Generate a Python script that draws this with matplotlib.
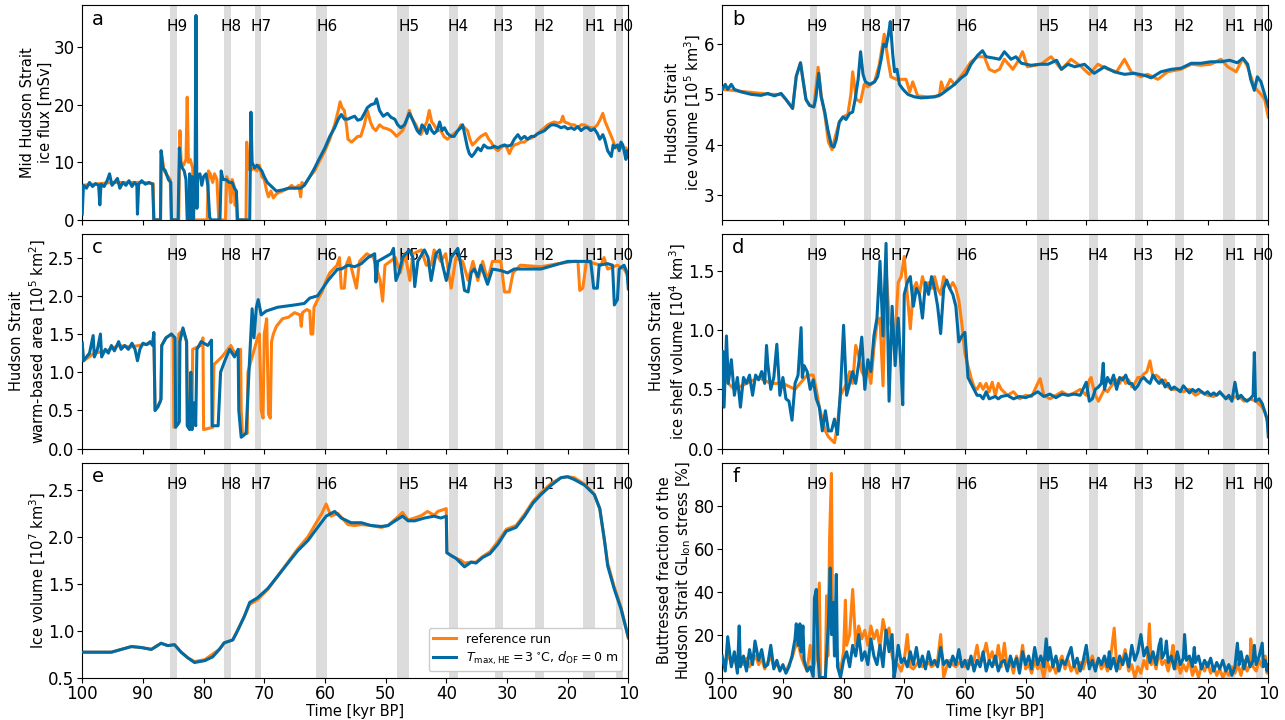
import matplotlib.pyplot as plt
import matplotlib.transforms as mtransforms

# Heinrich event bands (kyr BP, older edge -> younger edge)
h_names = ["H9", "H8", "H7", "H6", "H5", "H4", "H3", "H2", "H1", "H0"]
h_start = [85.5, 76.6, 71.5, 61.4, 48.1, 39.5, 32.0, 25.4, 17.4, 12.0]
h_end = [84.4, 75.5, 70.5, 59.7, 46.1, 38.1, 30.7, 23.9, 15.5, 10.9]

# --- a: mid Hudson Strait ice flux [mSv] ---
a_ref = [(100, 6.0), (95, 6.5), (90, 6.5), (88.3, 6.3), (88.2, 0), (87.1, 0), (87.0, 12), (86.5, 8.5), (85.5, 7),
         (85.3, 0), (84.1, 0), (83.9, 15.5), (83.7, 10), (83.3, 9.5), (82.9, 10.5), (82.7, 21.3), (82.5, 10),
         (82.2, 10.5), (81.8, 9), (81.6, 0), (79.4, 0), (79.2, 8.5), (78.9, 8), (78.5, 6.5), (78.2, 8), (77.8, 7),
         (77.5, 0), (76.4, 0), (76.2, 7.5), (75.8, 6.5), (75.5, 3), (75.3, 7), (75.0, 6), (74.8, 2.5), (74.6, 5),
         (74.5, 0), (73.0, 0), (72.9, 13.5), (72.6, 9), (72.3, 8.5), (71.8, 9), (71.2, 8.5), (70.8, 9.5), (70.4, 7.5),
         (70.0, 7), (69.6, 5), (69.3, 4), (68.9, 5), (68.5, 3.8), (68.0, 4.5), (67.5, 4.8), (67, 5), (66, 5.5),
         (65.5, 6), (65, 5.5), (64.3, 6), (64.0, 4), (63.8, 6.5), (63.4, 6), (62.5, 7.5), (61.7, 8.5), (61, 10),
         (60, 12), (59.2, 14), (58.4, 16.5), (57.8, 19), (57.5, 20.5), (57.2, 19.5), (56.8, 19), (56.4, 16),
         (56.2, 14), (55.6, 13.5), (55.1, 14), (54.6, 14.5), (54.1, 14.5), (53.5, 16.5), (53.0, 19.0), (52.5, 17),
         (52.1, 16), (51.6, 15.5), (51.0, 16.5), (50.4, 16), (49.7, 15.8), (49.1, 15.5), (48.6, 15), (48.2, 14.5),
         (47.7, 15), (47.2, 15.5), (46.6, 17), (46.1, 19), (45.6, 17.5), (45.0, 16.5), (44.6, 15.5), (44.2, 14.8),
         (43.7, 16), (43.2, 17), (42.8, 19), (42.4, 17), (42.0, 16.5), (41.5, 15.5), (40.9, 15.5), (40.4, 14.5),
         (39.8, 14), (39.3, 14.5), (38.7, 15), (38.1, 15.5), (37.6, 16.5), (37.0, 16), (36.5, 15.5), (36.1, 14),
         (35.7, 13), (35.2, 13.5), (34.8, 14), (34.3, 14.5), (33.5, 15), (33.0, 14), (32.6, 13.5), (32.1, 12.5),
         (31.5, 12), (31.0, 12.5), (30.4, 13), (30.0, 12.5), (29.6, 11.5), (29.2, 12.5), (28.8, 13), (28.2, 13.2),
         (27.7, 13.5), (27.1, 13.5), (26.6, 14), (26.0, 14.2), (25.5, 14.5), (24.9, 15), (24.4, 15.5), (23.8, 16),
         (23.3, 16.5), (22.7, 16.8), (22.2, 17), (21.6, 16.8), (21.1, 17), (20.8, 18), (20.5, 17), (20.0, 16.8),
         (19.4, 16.5), (18.9, 16.5), (18.3, 16), (17.8, 16.5), (17.2, 16.5), (16.7, 16.2), (16.2, 16), (15.6, 16),
         (15.1, 16.5), (14.6, 17.5), (14.2, 18.5), (13.8, 17), (13.4, 16), (13.0, 15), (12.6, 14), (12.1, 12.5),
         (11.6, 13), (11.3, 12.5), (10.9, 12.5), (10.4, 12.5), (10.0, 11.5)]
a_exp = [(100, 1.0), (99.8, 6.0), (99.3, 5.5), (98.8, 6.5), (98.3, 5.8), (97.8, 6.3), (97.3, 6.0), (97.1, 2.6),
         (96.9, 6.2), (96.4, 5.8), (95.9, 6.8), (95.5, 8.0), (95.1, 6.0), (94.7, 6.5), (94.2, 7.2), (93.8, 5.5),
         (93.3, 6.5), (92.8, 6.0), (92.3, 6.8), (91.8, 5.8), (91.4, 6.5), (91.0, 6.0), (90.9, 1.0), (90.7, 6.2),
         (90.2, 6.8), (89.6, 6.2), (89.0, 6.5), (88.4, 6.2), (88.2, 0), (87.1, 0), (87.0, 12.0), (86.7, 9.0),
         (86.3, 8.5), (85.8, 7.0), (85.4, 6.5), (85.3, 0), (84.2, 0), (84.0, 12.5), (83.8, 10.0), (83.5, 9.0),
         (83.2, 8.5), (82.9, 7.0), (82.7, 0), (82.4, 0), (82.3, 8.0), (82.1, 0), (81.9, 7.5), (81.7, 0), (81.4, 8.0),
         (81.25, 35.5), (81.1, 2.0), (81.0, 7.5), (80.6, 8.0), (80.3, 6.0), (80.0, 7.5), (79.6, 8.0), (79.3, 6.0),
         (79.0, 0.5), (78.8, 0), (77.3, 0), (77.1, 8.5), (76.8, 7.0), (76.3, 7.0), (75.8, 6.5), (75.3, 6.5),
         (74.9, 5.5), (74.6, 5.0), (74.4, 0), (72.4, 0), (72.2, 18.7), (72.0, 10), (71.6, 9.0), (71.2, 9.5),
         (70.8, 9.0), (70.4, 8.5), (70.0, 7.5), (69.5, 6.5), (69.0, 6.0), (68.5, 5.5), (68.0, 5.0), (67.0, 5.2),
         (66.0, 5.5), (65.0, 5.5), (64.0, 5.5), (63.4, 6.0), (62.5, 7.5), (61.7, 9.0), (61.0, 10.5), (60.0, 12.5),
         (59.2, 14.5), (58.4, 16.0), (57.8, 17.5), (57.3, 18.3), (56.8, 17.5), (56.2, 17.5), (55.6, 17.8),
         (55.1, 18.0), (54.6, 17.3), (54.0, 17.5), (53.5, 18.5), (53.0, 19.5), (52.4, 20.0), (51.8, 20.2),
         (51.5, 21.0), (51.0, 19.0), (50.4, 18.0), (49.7, 18.5), (49.1, 17.8), (48.5, 17.5), (48.0, 16.5),
         (47.5, 16.0), (46.9, 16.5), (46.5, 17.5), (46.1, 18.5), (45.6, 17.5), (45.2, 16.5), (44.8, 15.5),
         (44.4, 15.0), (44.0, 16.5), (43.6, 16.0), (43.2, 15.0), (42.8, 16.5), (42.4, 15.5), (42.0, 15.0),
         (41.5, 15.5), (41.1, 17.0), (40.7, 15.5), (40.3, 16.0), (39.8, 15.0), (39.2, 14.5), (38.7, 14.5),
         (38.1, 15.5), (37.6, 16.0), (37.3, 16.5), (36.8, 14.0), (36.5, 12.5), (36.2, 11.5), (35.8, 11.0),
         (35.4, 11.5), (34.8, 12.5), (34.3, 12.0), (33.8, 13.0), (33.2, 12.5), (32.6, 12.5), (32.1, 12.8),
         (31.5, 12.5), (31.0, 12.8), (30.4, 13.0), (29.9, 12.8), (29.3, 13.0), (28.8, 14.0), (28.2, 14.8),
         (27.7, 14.0), (27.1, 14.5), (26.6, 14.0), (26.0, 14.5), (25.5, 14.5), (24.9, 15.0), (24.4, 15.2),
         (23.8, 15.5), (23.3, 16.0), (22.7, 16.5), (22.2, 16.5), (21.6, 16.3), (21.1, 16.0), (20.5, 16.2),
         (20.0, 15.8), (19.4, 16.0), (18.9, 15.7), (18.3, 16.2), (17.8, 15.5), (17.2, 16.0), (16.7, 16.0),
         (16.2, 15.5), (15.6, 15.8), (15.1, 15.0), (14.7, 14.0), (14.2, 14.8), (13.9, 14.0), (13.4, 12.0),
         (12.8, 11.0), (12.5, 13.0), (12.3, 12.5), (11.8, 13.0), (11.5, 12.0), (11.2, 13.5), (10.9, 13.0),
         (10.6, 11.5), (10.4, 10.5), (10.2, 12.0), (10.0, 11.0)]

# --- b: Hudson Strait ice volume [1e5 km3] ---
b_ref = [(100, 5.1), (96, 5.05), (92, 5.0), (90.3, 5.0), (89.5, 4.9), (88.4, 4.72), (87.8, 5.36), (87.1, 5.63),
         (86.7, 5.3), (86.2, 4.9), (85.6, 4.78), (84.9, 4.75), (84.5, 5.2), (84.2, 5.54), (83.7, 5.0), (83.1, 4.6),
         (82.5, 4.05), (81.9, 3.9), (81.5, 4.1), (80.7, 4.45), (80.1, 4.55), (79.3, 4.6), (78.8, 5.0), (78.5, 5.45),
         (77.9, 4.9), (77.2, 4.85), (76.6, 5.2), (76.0, 5.15), (74.9, 5.25), (74.1, 5.6), (73.3, 6.2), (72.7, 5.7),
         (72.2, 5.35), (71.3, 5.3), (70.5, 5.3), (69.7, 5.3), (69.1, 5.05), (68.6, 5.25), (67.8, 4.97), (66, 4.95),
         (64.2, 4.97), (63.9, 5.25), (63.4, 5.05), (62.4, 5.3), (61.7, 5.2), (60.1, 5.45), (59.0, 5.65),
         (57.9, 5.75), (56.8, 5.75), (56.0, 5.5), (55.1, 5.45), (54.3, 5.5), (53.5, 5.7), (52.1, 5.5), (51.3, 5.65),
         (50.5, 5.85), (49.7, 5.55), (47.5, 5.6), (45.8, 5.75), (44.1, 5.5), (42.5, 5.7), (40.8, 5.55), (39.5, 5.4),
         (38.1, 5.6), (36.4, 5.5), (35.0, 5.45), (33.7, 5.7), (32.6, 5.45), (31.0, 5.35), (29.9, 5.4), (28.2, 5.3),
         (26.6, 5.45), (24.4, 5.5), (22.7, 5.6), (21.1, 5.58), (19.5, 5.6), (17.8, 5.7), (16.7, 5.55),
         (15.3, 5.45), (14.2, 5.72), (13.4, 5.55), (12.3, 5.15), (11.2, 5.0), (10.6, 4.9), (10.0, 4.55)]
b_exp = [(100, 5.1), (99.5, 5.2), (99.1, 5.1), (98.5, 5.2), (98, 5.1), (96.9, 5.05), (95.2, 5.0), (93.6, 4.98),
         (92.5, 5.02), (91.4, 4.97), (90.3, 5.02), (89.5, 4.9), (88.4, 4.72), (87.8, 5.36), (87.1, 5.63),
         (86.7, 5.3), (86.2, 4.9), (85.6, 4.78), (84.9, 4.75), (84.6, 4.9), (84.1, 5.42), (83.7, 4.95),
         (83.1, 4.65), (82.6, 4.3), (82.0, 3.98), (81.6, 3.95), (81.2, 4.1), (80.7, 4.45), (80.1, 4.55),
         (79.6, 4.5), (79.0, 4.62), (78.5, 4.65), (78.1, 4.9), (77.6, 5.3), (77.2, 5.85), (76.8, 5.4),
         (76.4, 5.25), (75.7, 5.2), (74.9, 5.25), (74.4, 5.35), (73.8, 5.7), (73.4, 6.0), (73.0, 5.95),
         (72.6, 6.2), (72.3, 6.45), (71.9, 5.8), (71.6, 5.45), (71.2, 5.5), (70.8, 5.2), (70.2, 5.1), (69.4, 5.0),
         (68.3, 4.95), (67.2, 4.93), (65.0, 4.95), (63.9, 5.0), (62.8, 5.1), (61.7, 5.2), (60.6, 5.33),
         (59.8, 5.4), (59.0, 5.6), (57.9, 5.78), (57.1, 5.87), (56.5, 5.75), (55.1, 5.72), (54.3, 5.7),
         (53.5, 5.85), (52.4, 5.7), (51.6, 5.75), (50.7, 5.62), (49.1, 5.58), (47.7, 5.6), (46.3, 5.6),
         (44.9, 5.68), (44.1, 5.5), (43.0, 5.6), (41.9, 5.55), (40.3, 5.6), (38.7, 5.42), (37.0, 5.55),
         (35.4, 5.45), (33.7, 5.4), (32.1, 5.42), (30.4, 5.38), (29.3, 5.33), (27.7, 5.45), (26.0, 5.5),
         (24.4, 5.52), (22.7, 5.62), (21.1, 5.62), (19.5, 5.65), (17.8, 5.65), (16.4, 5.68), (15.1, 5.63),
         (14.2, 5.72), (13.4, 5.6), (12.9, 5.3), (12.3, 5.08), (11.8, 5.35), (11.2, 5.25), (10.6, 5.0),
         (10.0, 4.76)]

# --- c: Hudson Strait warm-based area [1e5 km2] ---
c_ref = [(100, 1.38), (99.8, 1.15), (98, 1.25), (96, 1.28), (94, 1.35), (92, 1.33), (90, 1.36), (88.4, 1.38),
         (88.2, 1.5), (88.0, 0.5), (87.1, 0.62), (86.9, 1.35), (86.2, 1.45), (85.3, 1.5), (85.0, 1.45),
         (84.9, 0.28), (84.2, 0.32), (84.1, 1.5), (83.4, 1.55), (82.8, 1.4), (82.6, 0.3), (81.9, 0.28),
         (81.8, 1.3), (80.5, 1.35), (80.1, 1.45), (80.0, 0.25), (78.5, 0.28), (78.3, 1.1), (77.0, 1.2),
         (75.5, 1.35), (74.9, 1.25), (73.9, 1.3), (73.8, 0.5), (73.6, 0.2), (72.8, 0.2), (72.7, 1.0),
         (72.0, 1.2), (71.1, 1.45), (70.8, 1.5), (70.5, 0.5), (70.2, 0.4), (70.0, 1.5), (69.6, 1.7),
         (69.3, 0.45), (69.0, 0.4), (68.8, 1.4), (68.5, 1.5), (68.0, 1.6), (67.0, 1.7), (66.0, 1.72),
         (65.0, 1.78), (64.1, 1.75), (63.9, 1.6), (63.7, 1.78), (63.0, 1.82), (62.5, 1.8), (62.3, 1.5),
         (62.0, 1.5), (61.8, 1.85), (61.2, 1.95), (60.5, 2.05), (59.8, 2.2), (59.2, 2.3), (58.6, 2.35),
         (58.0, 2.4), (57.6, 2.5), (57.3, 2.1), (56.8, 2.1), (56.5, 2.4), (56.0, 2.5), (55.6, 2.35),
         (54.8, 2.1), (54.3, 2.45), (53.1, 2.55), (52.0, 2.5), (50.9, 2.2), (50.5, 1.93), (50.1, 2.4),
         (48.4, 2.5), (47.6, 2.3), (46.8, 2.55), (46.0, 2.2), (45.5, 2.55), (44.1, 2.6), (43.3, 2.4),
         (42.5, 2.4), (42.0, 2.6), (40.9, 2.45), (40.1, 2.55), (39.2, 2.1), (38.4, 2.5), (37.3, 2.45),
         (36.4, 2.2), (35.6, 2.45), (34.8, 2.2), (34.0, 2.45), (33.2, 2.2), (32.4, 2.45), (31.0, 2.45),
         (30.4, 2.05), (29.6, 2.05), (29.0, 2.3), (27.8, 2.4), (24.4, 2.38), (21.6, 2.42), (18.9, 2.45),
         (18.3, 2.45), (18.0, 2.07), (17.5, 2.1), (16.9, 2.45), (14.5, 2.4), (14.0, 2.5), (13.4, 2.35),
         (11.8, 2.4), (10.7, 2.35), (10.0, 2.25)]
c_exp = [(100, 1.38), (99.8, 1.15), (99.3, 1.2), (98.8, 1.25), (98.2, 1.48), (98.0, 1.2), (97.5, 1.3),
         (97.0, 1.5), (96.8, 1.2), (96.2, 1.3), (95.7, 1.25), (95.2, 1.35), (94.7, 1.28), (94.0, 1.4),
         (93.6, 1.3), (93.0, 1.35), (92.4, 1.3), (91.8, 1.38), (91.3, 1.3), (90.9, 1.15), (90.5, 1.3),
         (90.0, 1.38), (89.4, 1.36), (88.8, 1.4), (88.4, 1.35), (88.2, 1.52), (88.0, 0.5), (87.5, 0.55),
         (87.0, 0.65), (86.9, 1.35), (86.2, 1.45), (85.3, 1.5), (84.7, 1.45), (84.6, 0.28), (84.0, 0.35),
         (83.9, 1.4), (83.4, 1.58), (82.8, 1.4), (82.7, 0.3), (82.3, 0.25), (82.1, 1.0), (81.9, 0.25),
         (81.6, 0.6), (81.3, 0.3), (81.1, 1.3), (80.4, 1.4), (79.3, 1.35), (78.7, 1.42), (78.6, 0.3),
         (77.6, 0.3), (77.2, 1.0), (76.5, 1.15), (75.7, 1.3), (74.9, 1.2), (74.3, 1.3), (74.2, 0.5),
         (73.8, 0.15), (73.0, 0.2), (72.4, 1.2), (72.0, 1.83), (71.7, 1.45), (71.3, 1.85), (71.0, 1.95),
         (70.5, 1.75), (69.7, 1.8), (67.8, 1.85), (65.0, 1.88), (63.4, 1.9), (62.5, 1.97), (61.2, 2.0),
         (59.5, 2.2), (57.9, 2.35), (57.3, 2.35), (56.2, 2.4), (55.1, 2.38), (54.0, 2.42), (52.9, 2.5),
         (51.8, 2.55), (51.6, 2.18), (51.3, 2.45), (50.2, 2.5), (49.1, 2.55), (48.7, 2.62), (48.3, 2.2),
         (47.8, 2.3), (47.2, 2.5), (46.1, 2.6), (45.5, 2.5), (45.2, 2.12), (44.7, 2.45), (43.6, 2.6),
         (43.0, 2.5), (42.5, 2.2), (41.7, 2.55), (41.1, 2.6), (40.6, 2.4), (40.0, 2.2), (39.2, 2.5),
         (38.1, 2.62), (37.6, 2.4), (37.0, 2.07), (36.4, 2.05), (35.9, 2.3), (35.4, 2.35), (34.8, 2.25),
         (34.3, 2.4), (33.2, 2.15), (32.4, 2.35), (31.0, 2.33), (29.9, 2.3), (28.8, 2.35), (26.6, 2.35),
         (24.4, 2.35), (22.2, 2.4), (20.0, 2.45), (17.8, 2.45), (16.2, 2.45), (15.7, 2.1), (15.1, 2.1),
         (14.8, 2.4), (13.4, 2.42), (12.6, 2.4), (12.3, 1.88), (11.8, 1.95), (11.5, 2.35), (10.7, 2.4),
         (10.2, 2.3), (10.0, 2.09)]

# --- d: Hudson Strait ice shelf volume [1e4 km3] ---
d_ref = [(100, 0.6), (98, 0.5), (96, 0.55), (94, 0.6), (92, 0.55), (90, 0.55), (88, 0.5), (86, 0.62),
         (85.0, 0.62), (84.5, 0.5), (84.0, 0.35), (83.5, 0.25), (83.0, 0.15), (82.5, 0.1), (81.5, 0.05),
         (81.0, 0.2), (80.5, 0.45), (80.0, 0.5), (79.5, 0.55), (79.0, 0.65), (78.5, 0.55), (78.0, 0.87),
         (77.5, 0.78), (77.0, 0.65), (76.5, 0.6), (76.0, 0.7), (75.5, 0.55), (75.0, 0.85), (74.5, 1.05),
         (74.0, 1.1), (73.5, 0.53), (73.0, 1.52), (72.5, 1.1), (72.0, 1.0), (71.5, 0.95), (71.0, 1.4),
         (70.5, 1.45), (70.0, 1.62), (69.5, 1.3), (69.0, 1.01), (68.5, 1.35), (68.0, 1.4), (67.5, 1.3),
         (67.0, 1.45), (66.5, 1.35), (66.0, 1.4), (65.5, 1.35), (65.0, 1.45), (64.5, 1.35), (64.0, 1.3),
         (63.5, 1.45), (63.0, 1.4), (62.5, 1.35), (62.0, 1.4), (61.5, 1.35), (61.0, 1.25), (60.5, 1.05),
         (60.0, 0.8), (59.5, 0.7), (59.0, 0.6), (58.5, 0.52), (58.0, 0.5), (57.5, 0.55), (57.0, 0.5),
         (56.5, 0.55), (56.0, 0.48), (55.5, 0.56), (55.0, 0.45), (54.5, 0.55), (54.0, 0.5), (53.0, 0.45),
         (52.0, 0.48), (51.0, 0.42), (50.0, 0.45), (49.0, 0.44), (48.0, 0.55), (47.6, 0.59), (47.0, 0.45),
         (46.0, 0.42), (45.0, 0.45), (44.0, 0.48), (43.0, 0.45), (42.0, 0.47), (41.0, 0.5), (40.0, 0.45),
         (39.5, 0.58), (39.2, 0.6), (39.0, 0.55), (38.5, 0.45), (38.0, 0.4), (37.5, 0.45), (37.0, 0.5),
         (36.5, 0.48), (36.0, 0.52), (35.5, 0.55), (35.0, 0.58), (34.5, 0.55), (34.0, 0.6), (33.5, 0.55),
         (33.0, 0.58), (32.5, 0.52), (32.0, 0.55), (31.5, 0.6), (31.0, 0.6), (30.5, 0.63), (30.0, 0.65),
         (29.5, 0.74), (29.0, 0.6), (28.5, 0.62), (28.0, 0.6), (27.5, 0.55), (27.0, 0.58), (26.5, 0.52),
         (26.0, 0.5), (25.0, 0.5), (24.0, 0.48), (23.0, 0.5), (22.0, 0.45), (21.0, 0.48), (20.0, 0.45),
         (19.0, 0.44), (18.0, 0.47), (17.0, 0.43), (16.0, 0.42), (15.0, 0.45), (14.0, 0.4), (13.0, 0.42),
         (12.0, 0.4), (11.0, 0.35), (10.5, 0.3), (10.0, 0.2)]
d_exp = [(100, 0.6), (99.9, 0.82), (99.7, 0.35), (99.3, 0.95), (99.0, 0.55), (98.5, 0.75), (98.0, 0.45),
         (97.5, 0.6), (97.0, 0.35), (96.5, 0.6), (96.0, 0.55), (95.5, 0.62), (95.0, 0.45), (94.5, 0.62),
         (94.0, 0.58), (93.5, 0.65), (93.0, 0.55), (92.7, 0.87), (92.5, 0.72), (92.0, 0.5), (91.5, 0.6),
         (91.0, 0.88), (90.5, 0.45), (90.0, 0.6), (89.5, 0.42), (89.0, 0.4), (88.5, 0.24), (88.0, 0.55),
         (87.5, 0.62), (87.0, 1.02), (86.8, 0.6), (86.5, 0.7), (86.0, 0.65), (85.5, 0.5), (85.0, 0.58),
         (84.5, 0.42), (84.0, 0.35), (83.5, 0.15), (83.0, 0.32), (82.5, 0.15), (82.0, 0.15), (81.5, 0.25),
         (81.0, 0.12), (80.5, 0.5), (80.0, 1.04), (79.5, 0.45), (79.0, 0.55), (78.5, 0.65), (78.0, 0.55),
         (77.5, 0.72), (77.0, 0.94), (76.5, 0.5), (76.0, 0.75), (75.5, 0.65), (75.0, 0.95), (74.5, 1.1),
         (74.0, 1.58), (73.5, 0.95), (73.0, 1.73), (72.5, 0.4), (72.0, 1.2), (71.5, 0.7), (71.0, 1.1),
         (70.5, 0.65), (70.25, 0.37), (70.0, 1.3), (69.5, 1.4), (69.0, 1.45), (68.5, 1.2), (68.0, 1.35),
         (67.5, 1.3), (67.0, 1.1), (66.5, 1.4), (66.0, 1.3), (65.5, 1.45), (65.0, 1.35), (64.5, 1.2),
         (64.0, 0.97), (63.5, 1.35), (63.0, 1.42), (62.5, 1.35), (62.0, 1.3), (61.5, 1.2), (61.0, 0.9),
         (60.5, 0.95), (60.0, 0.98), (59.5, 0.6), (59.0, 0.55), (58.5, 0.5), (58.0, 0.45), (57.5, 0.45),
         (57.0, 0.42), (56.5, 0.48), (56.0, 0.42), (55.5, 0.43), (55.0, 0.44), (54.5, 0.42), (54.0, 0.44),
         (53.0, 0.45), (52.0, 0.42), (51.0, 0.44), (50.0, 0.43), (49.0, 0.45), (48.0, 0.48), (47.0, 0.44),
         (46.0, 0.46), (45.0, 0.43), (44.0, 0.46), (43.0, 0.45), (42.0, 0.46), (41.0, 0.45), (40.0, 0.56),
         (39.5, 0.4), (39.0, 0.42), (38.5, 0.5), (38.0, 0.52), (37.5, 0.55), (37.2, 0.72), (37.0, 0.5),
         (36.5, 0.6), (36.0, 0.55), (35.5, 0.62), (35.0, 0.5), (34.5, 0.6), (34.0, 0.58), (33.5, 0.62),
         (33.0, 0.55), (32.5, 0.55), (32.0, 0.5), (31.5, 0.53), (31.0, 0.58), (30.5, 0.6), (30.0, 0.57),
         (29.5, 0.55), (29.0, 0.62), (28.5, 0.58), (28.0, 0.55), (27.5, 0.58), (27.0, 0.52), (26.5, 0.55),
         (26.0, 0.5), (25.5, 0.52), (25.0, 0.5), (24.5, 0.48), (24.0, 0.53), (23.5, 0.5), (23.0, 0.47),
         (22.5, 0.5), (22.0, 0.48), (21.5, 0.5), (21.0, 0.48), (20.5, 0.46), (20.0, 0.48), (19.5, 0.45),
         (19.0, 0.47), (18.5, 0.45), (18.0, 0.48), (17.5, 0.45), (17.0, 0.42), (16.5, 0.45), (16.0, 0.4),
         (15.5, 0.56), (15.0, 0.42), (14.5, 0.45), (14.0, 0.42), (13.5, 0.4), (13.0, 0.42), (12.5, 0.45),
         (12.3, 0.81), (12.1, 0.4), (11.5, 0.42), (11.0, 0.38), (10.5, 0.3), (10.2, 0.25), (10.0, 0.1)]

# --- e: total ice volume [1e7 km3] ---
e_ref = [(100, 0.77), (95.2, 0.77), (91.9, 0.83), (90.3, 0.82), (88.6, 0.8), (87.0, 0.865), (85.9, 0.84),
         (84.8, 0.85), (83.7, 0.77), (82.6, 0.71), (81.5, 0.67), (79.8, 0.69), (78.5, 0.75), (77.4, 0.8),
         (76.6, 0.87), (75.2, 0.9), (74.4, 1.0), (73.3, 1.15), (72.4, 1.28), (71.1, 1.33), (69.4, 1.44),
         (67.8, 1.58), (66.1, 1.73), (64.5, 1.87), (62.8, 2.0), (61.7, 2.12), (60.5, 2.25), (59.8, 2.35),
         (59.0, 2.22), (57.9, 2.25), (56.2, 2.13), (55.1, 2.12), (54.0, 2.13), (52.4, 2.12), (50.7, 2.1),
         (49.6, 2.12), (48.2, 2.2), (47.2, 2.26), (46.3, 2.18), (45.2, 2.2), (44.0, 2.23), (43.1, 2.27),
         (42.0, 2.23), (41.4, 2.27), (40.0, 2.3), (39.9, 1.83), (39.2, 1.8), (38.4, 1.77), (37.6, 1.75),
         (37.0, 1.72), (35.9, 1.73), (35.1, 1.73), (34.0, 1.79), (32.8, 1.84), (31.5, 1.95), (30.1, 2.08),
         (28.5, 2.12), (27.1, 2.24), (25.7, 2.38), (24.4, 2.47), (22.7, 2.57), (21.1, 2.63), (20.0, 2.64),
         (18.9, 2.63), (17.2, 2.56), (15.6, 2.45), (14.7, 2.3), (13.4, 1.72), (12.3, 1.46), (11.2, 1.25),
         (10.0, 0.92)]
e_exp = [(100, 0.77), (95.2, 0.77), (91.9, 0.83), (90.3, 0.82), (88.6, 0.8), (87.0, 0.865), (85.9, 0.84),
         (84.8, 0.85), (83.7, 0.77), (82.6, 0.71), (81.5, 0.66), (79.8, 0.68), (78.5, 0.72), (77.4, 0.8),
         (76.6, 0.87), (75.2, 0.9), (74.4, 1.0), (73.3, 1.15), (72.4, 1.3), (71.1, 1.35), (69.4, 1.45),
         (67.8, 1.58), (66.1, 1.72), (64.5, 1.85), (62.8, 1.96), (61.2, 2.1), (59.8, 2.22), (58.4, 2.27),
         (57.3, 2.2), (55.7, 2.15), (54.0, 2.15), (52.4, 2.12), (50.7, 2.11), (49.6, 2.12), (48.2, 2.18),
         (47.2, 2.22), (46.3, 2.17), (45.2, 2.17), (43.6, 2.2), (42.0, 2.22), (40.9, 2.2), (40.0, 2.22),
         (39.9, 1.83), (39.2, 1.8), (38.4, 1.77), (37.0, 1.68), (35.9, 1.73), (35.1, 1.72), (34.0, 1.78),
         (32.8, 1.82), (31.5, 1.92), (30.1, 2.06), (28.5, 2.1), (27.1, 2.22), (25.7, 2.36), (24.4, 2.45),
         (22.7, 2.55), (21.1, 2.63), (20.0, 2.64), (18.9, 2.61), (17.2, 2.55), (15.6, 2.45), (14.7, 2.3),
         (13.9, 1.95), (13.4, 1.69), (12.3, 1.44), (11.2, 1.23), (10.0, 0.93)]

# --- f: buttressed fraction of GL stress [%] ---
f_ref = [(100, 8), (99.5, 5), (99, 12), (98.5, 6), (98, 10), (97.5, 4), (97, 8), (96.5, 6), (96, 9), (95.5, 5),
         (95, 8), (94.5, 10), (94, 6), (93.5, 9), (93, 4), (92.5, 7), (92, 10), (91.5, 5), (91, 6), (90.5, 4),
         (90, 5), (89.5, 3), (89, 6), (88.5, 9), (88, 14), (87.5, 16), (87, 10), (86.5, 6), (86, 3), (85.5, 15),
         (85, 4), (84.5, 10), (84, 44), (83.8, 0), (83, 0), (82.8, 38), (82.6, 10), (82.4, 44), (82.3, 65),
         (82.0, 95), (81.8, 20), (81.5, 25), (81, 8), (80.5, 3), (80, 12), (79.7, 36), (79.5, 15), (79, 20),
         (78.5, 41), (78, 15), (77.5, 24), (77, 18), (76.5, 22), (76, 15), (75.5, 24), (75, 18), (74.5, 22),
         (74, 14), (73.5, 27), (73, 20), (72.5, 23), (72, 10), (71.5, 5), (71, 6), (70.5, 3), (70, 8),
         (69.5, 20), (69, 5), (68.5, 4), (68, 6), (67.5, 8), (67, 5), (66.5, 6), (66, 7), (65.5, 5), (65, 6),
         (64.5, 8), (64, 20), (63.5, 0), (63, 5), (62.5, 8), (62, 6), (61.5, 5), (61, 7), (60.5, 6), (60, 5),
         (59.5, 8), (59, 6), (58.5, 8), (58, 15), (57.5, 6), (57, 10), (56.5, 16), (56, 8), (55.5, 12), (55, 6),
         (54.5, 15), (54, 5), (53.5, 16), (53, 4), (52.5, 8), (52, 2), (51.5, 10), (51, 5), (50.5, 15), (50, 4),
         (49.5, 6), (49, 2), (48.5, 8), (48, 4), (47.5, 6), (47, 0), (46.5, 8), (46, 3), (45.5, 6), (45, 2),
         (44.5, 7), (44, 10), (43.5, 4), (43, 8), (42.5, 3), (42, 6), (41.5, 2), (41, 7), (40.5, 4), (40, 9),
         (39.5, 6), (39, 10), (38.5, 5), (38, 8), (37.5, 4), (37, 7), (36.5, 3), (36, 9), (35.4, 23), (35, 6),
         (34.5, 4), (34, 8), (33.6, 13), (33, 3), (32.5, 6), (32, 0), (31.5, 5), (31, 2), (30.5, 8), (30, 4),
         (29.6, 25), (29.3, 6), (29, 10), (28.5, 4), (28, 12), (27.5, 6), (27, 8), (26.5, 3), (26, 10),
         (25.7, 15), (25.3, 4), (25, 8), (24.5, 2), (24, 6), (23.5, 3), (23, 8), (22.5, 1), (22, 5), (21.5, 0),
         (21, 6), (20.5, 3), (20, 7), (19.5, 2), (19, 5), (18.5, 1), (18, 4), (17.5, 0), (17, 3), (16.5, 1),
         (16, 5), (15.5, 2), (15, 6), (14.5, 1), (14, 8), (13.5, 3), (13, 6), (12.9, 18), (12.5, 5), (12, 3),
         (11.5, 8), (11, 5), (10.5, 10), (10.2, 2), (10, 4)]
f_exp = [(100, 10), (99.5, 3), (99.1, 19), (98.5, 5), (98, 12), (97.5, 2), (97.2, 24), (97, 5), (96.5, 10),
         (96, 3), (95.5, 13), (95, 6), (94.6, 17), (94, 8), (93.5, 13), (93, 5), (92.5, 6), (92, 15), (91.5, 4),
         (91, 8), (90.5, 3), (90, 6), (89.5, 2), (89, 5), (88.5, 10), (88, 18), (87.8, 25), (87.5, 15),
         (87.2, 25), (87, 12), (86.7, 24), (86.5, 8), (86, 3), (85.5, 5), (85, 0.5), (84.8, 37), (84.5, 41),
         (84.2, 10), (84, 0), (83, 0), (82.5, 25), (82.2, 51), (82.0, 20), (81.7, 35), (81.5, 10), (81.2, 48),
         (81, 5), (80.5, 0), (80, 8), (79.5, 12), (79, 5), (78.5, 15), (78, 10), (77.5, 20), (77, 8),
         (76.5, 12), (76, 6), (75.5, 18), (75, 10), (74.5, 6), (74, 15), (73.5, 5), (73, 22), (72.5, 12),
         (72, 20), (71.7, 0), (71.5, 3), (71, 15), (70.5, 7), (70, 9), (69.5, 5), (69, 12), (68.5, 6), (68, 14),
         (67.5, 5), (67, 10), (66.5, 4), (66, 12), (65.5, 6), (65, 8), (64.5, 5), (64, 14), (63.5, 6), (63, 8),
         (62.5, 5), (62, 10), (61.5, 6), (61, 13), (60.5, 5), (60, 8), (59.5, 4), (59, 10), (58.5, 3), (58, 8),
         (57.5, 5), (57, 12), (56.5, 3), (56, 8), (55.5, 5), (55, 10), (54.5, 3), (54, 7), (53.5, 8), (53, 3),
         (52.5, 10), (52, 5), (51.5, 9), (51, 2), (50.5, 12), (50, 6), (49.5, 10), (49, 4), (48.5, 14), (48, 6),
         (47.5, 10), (47, 5), (46.6, 18), (46.3, 8), (46, 14), (45.5, 5), (45, 10), (44.5, 3), (44, 8),
         (43.5, 6), (43, 10), (42.5, 14), (42, 5), (41.5, 9), (41, 3), (40.5, 8), (40, 15), (39.5, 4), (39, 8),
         (38.5, 3), (38, 9), (37.5, 6), (37, 10), (36.5, 5), (36.2, 12), (36, 4), (35.5, 9), (35, 3),
         (34.5, 10), (34, 6), (33.5, 11), (33, 5), (32.5, 15), (32, 8), (31.5, 12), (31, 20), (30.5, 10),
         (30, 14), (29.5, 7), (29, 12), (28.5, 6), (28, 15), (27.7, 18), (27.5, 9), (27, 12), (26.8, 17),
         (26.5, 7), (26, 10), (25.5, 4), (25, 12), (24.5, 6), (24, 9), (23.8, 20), (23.5, 8), (23, 10),
         (22.5, 5), (22.2, 14), (22, 7), (21.5, 10), (21, 4), (20.5, 8), (20, 5), (19.5, 9), (19, 3), (18.5, 7),
         (18, 4), (17.5, 8), (17, 3), (16.5, 6), (16, 1), (15.5, 5), (15.1, 16), (14.8, 6), (14.5, 12), (14, 4),
         (13.5, 10), (13, 5), (12.5, 8), (12.3, 15), (12, 6), (11.5, 10), (11, 16), (10.8, 5), (10.5, 8),
         (10.2, 3), (10, 6)]

panels = [
    ("a", a_ref, a_exp, (0, 37.3), [0, 10, 20, 30], "Mid Hudson Strait\nice flux [mSv]"),
    ("b", b_ref, b_exp, (2.5, 6.78), [3, 4, 5, 6], "Hudson Strait\nice volume [10$^5$ km$^3$]"),
    ("c", c_ref, c_exp, (0, 2.81), [0.0, 0.5, 1.0, 1.5, 2.0, 2.5], "Hudson Strait\nwarm-based area [10$^5$ km$^2$]"),
    ("d", d_ref, d_exp, (0, 1.81), [0.0, 0.5, 1.0, 1.5], "Hudson Strait\nice shelf volume [10$^4$ km$^3$]"),
    ("e", e_ref, e_exp, (0.5, 2.79), [0.5, 1.0, 1.5, 2.0, 2.5], "Ice volume [10$^7$ km$^3$]"),
    ("f", f_ref, f_exp, (0, 100), [0, 20, 40, 60, 80],
     "Buttressed fraction of the\nHudson Strait GL$_{\\mathrm{lon}}$ stress [%]"),
]

c_ref_col = "#FF800E"
c_exp_col = "#006BA4"

fig, axes = plt.subplots(3, 2, figsize=(12.85, 7.2), dpi=100, sharex=True)
fig.subplots_adjust(left=0.064, right=0.987, top=0.993, bottom=0.059, wspace=0.172, hspace=0.065)

for ax, (letter, ref, exp, ylim, yticks, ylabel) in zip(axes.flat, panels):
    trans = mtransforms.blended_transform_factory(ax.transData, ax.transAxes)
    for name, s, e in zip(h_names, h_start, h_end):
        ax.axvspan(e, s, color="#dcdcdc", lw=0, zorder=0)
        ax.text(e, 0.9, name, transform=trans, ha="center", va="center", fontsize=11, zorder=1)
    t, v = zip(*ref)
    ax.plot(t, v, color=c_ref_col, lw=2.2, label="reference run", zorder=2)
    t, v = zip(*exp)
    ax.plot(t, v, color=c_exp_col, lw=2.2,
            label=r"$T_{\mathrm{max,HE}} = 3\,^{\circ}$C, $d_{\mathrm{OF}} = 0$ m", zorder=3)
    ax.set_xlim(100, 10)
    ax.set_ylim(*ylim)
    ax.set_yticks(yticks)
    ax.set_ylabel(ylabel, fontsize=10.5, labelpad=0.5)
    ax.tick_params(labelsize=12, pad=2)
    ax.text(0.018, 0.935, letter, transform=ax.transAxes, fontsize=14, va="center", ha="left")

for ax in axes[2]:
    ax.set_xticks(range(100, 9, -10))
    ax.set_xlabel("Time [kyr BP]", fontsize=10.5, labelpad=0.5)

axes[2, 0].legend(loc="lower right", fontsize=9, framealpha=1, handlelength=1.8,
                  borderpad=0.35, labelspacing=0.3)

plt.savefig("out.png", dpi=100)
